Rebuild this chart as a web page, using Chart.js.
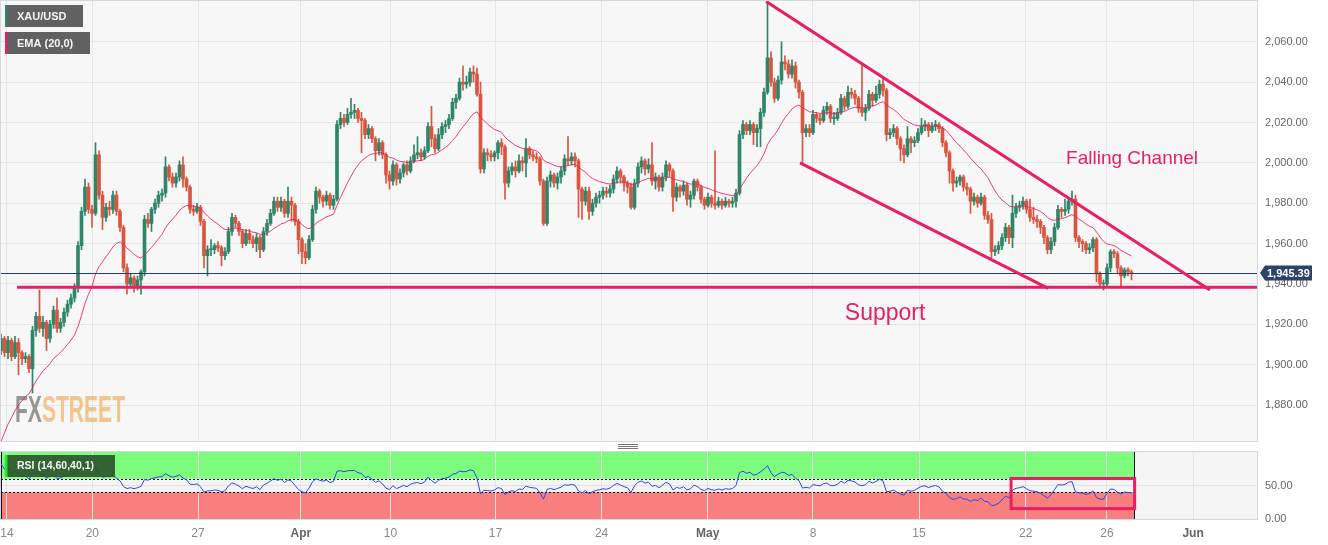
<!DOCTYPE html>
<html>
<head>
<meta charset="utf-8">
<script src="https://cdn.jsdelivr.net/npm/chart.js@4.4.0/dist/chart.umd.min.js"></script>
<style>
  body { margin: 0; background: #fff; width: 1328px; height: 545px; overflow: hidden; position: relative; }
  #main { position: absolute; left: 0; top: 0; }
  #rsi { position: absolute; left: 0; top: 445px; }
  .grip { position: absolute; left: 618px; width: 20px; height: 1px; background: #777; }
</style>
</head>
<body>
<canvas id="main" width="1328" height="442"></canvas>
<div class="grip" style="top:444px"></div>
<div class="grip" style="top:446px"></div>
<div class="grip" style="top:448px"></div>
<canvas id="rsi" width="1328" height="100"></canvas>
<script>
// XAU/USD 4h candles, Mar 14 - May 26
const firstOpen = 1907;
const closes = [
  1913, 1906, 1912, 1904, 1911, 1906, 1903, 1904, 1898, 1917,
  1924, 1918, 1921, 1913, 1920, 1927, 1918, 1921, 1926, 1930,
  1933, 1938, 1959, 1976, 1988, 1977, 1975, 2004, 1984, 1973,
  1978, 1977, 1984, 1976, 1968, 1948, 1940, 1943, 1939, 1942,
  1946, 1972, 1970, 1977, 1980, 1984, 1985, 1998, 1993, 1990,
  1993, 1999, 1992, 1988, 1977, 1976, 1978, 1971, 1954, 1957,
  1957, 1959, 1958, 1954, 1956, 1966, 1973, 1970, 1966, 1960,
  1965, 1962, 1960, 1963, 1957, 1966, 1970, 1975, 1981, 1978,
  1981, 1975, 1981, 1979, 1971, 1962, 1956, 1953, 1962, 1977,
  1986, 1983, 1981, 1984, 1979, 1982, 2019, 2022, 2020, 2024,
  2025, 2026, 2022, 2021, 2014, 2017, 2012, 2006, 2010, 2004,
  1994, 1991, 1999, 1992, 1995, 1999, 1996, 2001, 2004, 2005,
  2003, 2006, 2018, 2012, 2007, 2014, 2018, 2019, 2022, 2030,
  2032, 2040, 2039, 2040, 2045, 2044, 2034, 1997, 2005, 2004,
  2003, 2005, 2010, 2008, 1990, 1996, 1998, 1996, 2001, 2000,
  2007, 2004, 2003, 2002, 1991, 1970, 1991, 1994, 1990, 1993,
  1996, 2002, 2001, 2003, 2001, 1987, 1981, 1986, 1976, 1980,
  1983, 1984, 1986, 1985, 1987, 1992, 1996, 1993, 1990, 1988,
  1978, 1990, 1998, 2001, 1997, 1999, 1991, 1993, 1988, 1993,
  1999, 1996, 1983, 1988, 1986, 1989, 1982, 1984, 1991, 1988,
  1982, 1979, 1983, 1980, 1979, 1981, 1979, 1981, 1980, 1981,
  1985, 2014, 2019, 2016, 2019, 2015, 2017, 2025, 2035, 2052,
  2040, 2032, 2041, 2050, 2049, 2044, 2048, 2040, 2035, 2015,
  2017, 2015, 2024, 2022, 2021, 2026, 2028, 2022, 2022, 2025,
  2032, 2028, 2035, 2034, 2032, 2027, 2025, 2027, 2034, 2031,
  2034, 2039, 2036, 2014, 2015, 2017, 2012, 2007, 2004, 2012,
  2010, 2011, 2015, 2018, 2019, 2016, 2018, 2019, 2017, 2010,
  2005, 1996, 1990, 1991, 1993, 1988, 1987, 1981, 1983, 1980,
  1983, 1974, 1972, 1956, 1957, 1959, 1963, 1968, 1963, 1975,
  1978, 1979, 1981, 1977, 1973, 1972, 1971, 1968, 1963, 1957,
  1961, 1968, 1977, 1976, 1977, 1981, 1982, 1963, 1961, 1960,
  1957, 1958, 1962, 1945, 1940, 1940, 1948, 1956, 1955, 1948,
  1944, 1947, 1946, 1945.39
];
const highs = [
  1915, 1914, 1914, 1913, 1914, 1913, 1907, 1906, 1905, 1919,
  1926, 1937, 1924, 1922, 1922, 1929, 1933, 1923, 1928, 1932,
  1935, 1940, 1961, 1978, 1992, 1990, 1979, 2010, 2006, 1986,
  1980, 1981, 1986, 1986, 1977, 1969, 1950, 1945, 1944, 1944,
  1947, 1974, 1975, 1978, 1982, 1986, 1987, 2003, 1999, 1995,
  1995, 2001, 2003, 1993, 1989, 1979, 1980, 1979, 1972, 1959,
  1962, 1960, 1961, 1959, 1958, 1968, 1975, 1974, 1971, 1967,
  1967, 1967, 1964, 1965, 1964, 1968, 1972, 1977, 1983, 1983,
  1983, 1982, 1988, 1983, 1980, 1972, 1963, 1960, 1964, 1979,
  1988, 1987, 1984, 1986, 1985, 1984, 2021, 2025, 2024, 2027,
  2032, 2029, 2027, 2025, 2022, 2019, 2018, 2013, 2012, 2011,
  2005, 1996, 2001, 2000, 1997, 2000, 2001, 2003, 2009, 2013,
  2007, 2008, 2020, 2028, 2014, 2017, 2020, 2021, 2024, 2032,
  2034, 2042, 2048, 2043, 2047, 2048, 2047, 2040, 2007, 2007,
  2006, 2006, 2011, 2012, 2009, 1998, 2000, 2001, 2004, 2003,
  2012, 2008, 2006, 2005, 2003, 1992, 1993, 1996, 1995, 1995,
  1998, 2004, 2013, 2005, 2005, 2002, 1988, 1988, 1988, 1982,
  1985, 1986, 1988, 1988, 1989, 1994, 1998, 1997, 1994, 1991,
  1990, 1992, 2000, 2003, 2002, 2002, 2010, 1995, 1994, 1995,
  2001, 2000, 1997, 1990, 1989, 1991, 1990, 1986, 1992, 1992,
  1989, 1983, 1985, 1984, 2006, 1983, 1982, 1983, 1982, 1983,
  1987, 2016, 2021, 2020, 2021, 2020, 2019, 2027, 2037, 2079,
  2055, 2042, 2043, 2060, 2053, 2051, 2051, 2050, 2041, 2036,
  2019, 2019, 2026, 2025, 2024, 2028, 2030, 2029, 2025, 2027,
  2034, 2033, 2038, 2037, 2036, 2033, 2049, 2029, 2036, 2035,
  2038, 2041, 2042, 2037, 2017, 2019, 2018, 2013, 2009, 2018,
  2013, 2013, 2017, 2022, 2021, 2020, 2020, 2021, 2020, 2018,
  2011, 2006, 1997, 1993, 1994, 1994, 1990, 1988, 1985, 1984,
  1985, 1984, 1976, 1975, 1959, 1961, 1965, 1970, 1969, 1984,
  1980, 1981, 1983, 1982, 1982, 1978, 1974, 1972, 1969, 1964,
  1963, 1970, 1979, 1978, 1982, 1983, 1986, 1984, 1964, 1962,
  1961, 1960, 1963, 1963, 1946, 1942, 1950, 1957, 1957, 1956,
  1949, 1948, 1948, 1947
];
const lows = [
  1905, 1904, 1903, 1902, 1903, 1895, 1900, 1901, 1896, 1886,
  1914, 1916, 1914, 1907, 1911, 1918, 1916, 1916, 1919, 1924,
  1928, 1931, 1936, 1957, 1974, 1975, 1968, 1974, 1982, 1967,
  1971, 1974, 1975, 1974, 1966, 1946, 1935, 1938, 1936, 1937,
  1935, 1944, 1968, 1966, 1975, 1978, 1981, 1983, 1991, 1988,
  1988, 1991, 1988, 1986, 1975, 1974, 1975, 1969, 1948, 1944,
  1954, 1955, 1956, 1949, 1952, 1955, 1964, 1968, 1964, 1958,
  1959, 1960, 1958, 1956, 1953, 1956, 1964, 1969, 1974, 1976,
  1976, 1973, 1973, 1971, 1969, 1955, 1950, 1950, 1952, 1961,
  1975, 1980, 1978, 1979, 1977, 1977, 1981, 2017, 2018, 2019,
  2022, 2022, 2020, 2005, 2012, 2012, 2010, 2001, 2004, 2002,
  1990, 1987, 1989, 1989, 1990, 1993, 1994, 1995, 2000, 2002,
  2001, 2002, 2005, 2008, 2005, 2006, 2012, 2015, 2017, 2021,
  2027, 2031, 2036, 2037, 2038, 2040, 2033, 1995, 1995, 2001,
  2001, 2001, 2002, 2004, 1982, 1988, 1994, 1993, 1995, 1996,
  1993, 2002, 2001, 2000, 1989, 1969, 1969, 1988, 1988, 1987,
  1990, 1994, 1999, 1999, 1998, 1973, 1972, 1979, 1972, 1974,
  1978, 1980, 1982, 1983, 1983, 1985, 1990, 1990, 1986, 1985,
  1977, 1977, 1988, 1995, 1994, 1995, 1989, 1987, 1986, 1986,
  1991, 1993, 1976, 1981, 1983, 1984, 1979, 1978, 1982, 1986,
  1980, 1977, 1978, 1978, 1977, 1978, 1977, 1978, 1978, 1978,
  1978, 1984, 2012, 2014, 2014, 2009, 2008, 2008, 2023, 2034,
  2038, 2030, 2031, 2039, 2046, 2042, 2042, 2037, 2032, 2000,
  2013, 2013, 2014, 2020, 2019, 2020, 2024, 2020, 2019, 2021,
  2024, 2026, 2027, 2032, 2029, 2025, 2023, 2021, 2026, 2028,
  2030, 2032, 2033, 2011, 2012, 2013, 2009, 2001, 2000, 2003,
  2005, 2008, 2010, 2014, 2016, 2013, 2015, 2016, 2015, 2008,
  2003, 1990, 1986, 1988, 1989, 1986, 1984, 1975, 1979, 1978,
  1979, 1972, 1970, 1953, 1954, 1955, 1957, 1961, 1960, 1958,
  1973, 1976, 1977, 1975, 1971, 1970, 1968, 1965, 1960, 1955,
  1955, 1959, 1967, 1973, 1974, 1975, 1979, 1961, 1958, 1956,
  1955, 1955, 1956, 1941, 1938, 1937, 1939, 1946, 1953, 1945,
  1939, 1943, 1944, 1942
];

// axis ticks (candle index of each date label)
const dateTicks = [1.7, 26.1, 56.3, 85.7, 111.3, 141.3, 171.6, 201.9, 232.0, 262.3, 292.8, 316.0, 340.6];
const dateLabels = ['14', '20', '27', 'Apr', '10', '17', '24', 'May', '8', '15', '22', '26', 'Jun'];
const priceTicks = [1880, 1900, 1920, 1940, 1960, 1980, 2000, 2020, 2040, 2060];
const rsiTicks = [0, 50];

// indicator settings
const emaPeriod = 20;
const emaSeed = 1862;
const rsiPeriod = 14;
const rsiSeedGain = 4.2;
const rsiSeedLoss = 0.9;
const rsiUpper = 60;
const rsiLower = 40;

// drawings on the chart, in (candle index, price)
const supportLevel = 1938.4;
const supportStart = 4.6;
const upperChannel = [[218.6, 2080.0], [345.4, 1937.0]];
const lowerChannel = [[228.3, 2000.0], [299.2, 1937.8]];
const channelLabel = [304.3, 1999.4];
const supportLabel = [241.1, 1922.1];
const rsiBox = [288.6, 60.5, 323.9, 15.5];

const FONT = 'Arial, "Liberation Sans", sans-serif';
const GREEN = '#2e8568';
const RED = '#d95540';
const PINK = '#e91e63';
const xMin = 0, xMax = 358.86;

const opens = closes.map((c, i) => i === 0 ? firstOpen : closes[i - 1]);
const colors = closes.map((c, i) => c >= opens[i] ? GREEN : RED);

// EMA
const k = 2 / (emaPeriod + 1);
const ema = [];
closes.forEach((c, i) => {
  ema.push(i === 0 ? emaSeed : ema[i - 1] + k * (c - ema[i - 1]));
});

// RSI (Wilder)
let avgG = rsiSeedGain, avgL = rsiSeedLoss;
const rsi = closes.map((c, i) => {
  if (i > 0) {
    const ch = c - closes[i - 1];
    avgG = (avgG * (rsiPeriod - 1) + Math.max(ch, 0)) / rsiPeriod;
    avgL = (avgL * (rsiPeriod - 1) + Math.max(-ch, 0)) / rsiPeriod;
  }
  return 100 - 100 / (1 + avgG / avgL);
});

function fmt(v) {
  return v.toLocaleString('en-US', { minimumFractionDigits: 2, maximumFractionDigits: 2 });
}

function xAxis(showLabels) {
  return {
    type: 'linear', min: xMin, max: xMax, offset: false,
    afterBuildTicks: s => { s.ticks = dateTicks.map(v => ({ value: v })); },
    afterFit: s => {
      s.height = showLabels ? 26 : 0;
      s.paddingLeft = 0; s.paddingRight = 0;
    },
    grid: { color: '#e6e6e6', drawTicks: false, offset: false },
    border: { display: false },
    ticks: {
      display: showLabels, autoSkip: false, maxRotation: 0, padding: 7,
      callback: (v, i) => dateLabels[i],
      color: c => /^[A-Z]/.test(dateLabels[c.index]) ? '#666' : '#888',
      font: c => ({ family: FONT, size: 12, weight: /^[A-Z]/.test(dateLabels[c.index]) ? 'bold' : 'normal' })
    }
  };
}

function yFit(s) {
  s.width = 71;
  s.paddingTop = 0; s.paddingBottom = 0;
}

function tagBox(ctx, x, y, w, h, strip, fill, text, size) {
  ctx.fillStyle = fill;
  ctx.fillRect(x, y, w, h);
  ctx.fillStyle = strip;
  ctx.fillRect(x, y, 2.5, h);
  ctx.fillStyle = '#f4f4f4';
  ctx.font = 'bold ' + size + 'px ' + FONT;
  ctx.textBaseline = 'middle';
  ctx.textAlign = 'left';
  ctx.fillText(text, x + 12, y + h / 2 + 0.5);
}

const mainDecor = {
  id: 'mainDecor',
  beforeDraw(chart) {
    const { ctx, chartArea: a } = chart;
    ctx.save();
    ctx.fillStyle = '#f7f7f7';
    ctx.fillRect(a.left, a.top, a.right - a.left, a.bottom - a.top);
    ctx.restore();
  },
  beforeDatasetsDraw(chart) {
    // watermark
    const { ctx } = chart;
    ctx.save();
    ctx.font = 'bold 37px ' + FONT;
    const wFX = ctx.measureText('FX').width;
    const wAll = ctx.measureText('FXSTREET').width;
    ctx.translate(15, 422);
    ctx.scale(110 / wAll, 1);
    ctx.textBaseline = 'alphabetic';
    ctx.fillStyle = 'rgba(125,125,125,0.8)';
    ctx.fillText('FX', 0, 0);
    ctx.fillStyle = 'rgba(240,175,95,0.7)';
    ctx.fillText('STREET', wFX, 0);
    ctx.restore();
  },
  afterDatasetsDraw(chart) {
    const { ctx, chartArea: a, scales: { x, y } } = chart;
    const line = (p, q, color, w) => {
      ctx.beginPath();
      ctx.strokeStyle = color;
      ctx.lineWidth = w;
      ctx.moveTo(x.getPixelForValue(p[0]), y.getPixelForValue(p[1]));
      ctx.lineTo(x.getPixelForValue(q[0]), y.getPixelForValue(q[1]));
      ctx.stroke();
    };
    ctx.save();
    ctx.beginPath();
    ctx.rect(a.left, a.top, a.right - a.left, a.bottom - a.top);
    ctx.clip();
    // last price line
    const lp = Math.round(y.getPixelForValue(closes[closes.length - 1])) + 0.5;
    ctx.beginPath();
    ctx.strokeStyle = '#2c3e5c';
    ctx.lineWidth = 1;
    ctx.moveTo(a.left, lp);
    ctx.lineTo(a.right, lp);
    ctx.stroke();
    line([supportStart, supportLevel], [xMax, supportLevel], PINK, 3);
    line(upperChannel[0], upperChannel[1], PINK, 3);
    line(lowerChannel[0], lowerChannel[1], PINK, 3);
    ctx.fillStyle = PINK;
    ctx.textBaseline = 'alphabetic';
    ctx.textAlign = 'left';
    ctx.font = '19px ' + FONT;
    ctx.fillText('Falling Channel', x.getPixelForValue(channelLabel[0]), y.getPixelForValue(channelLabel[1]));
    ctx.font = '23px ' + FONT;
    ctx.fillText('Support', x.getPixelForValue(supportLabel[0]), y.getPixelForValue(supportLabel[1]));
    ctx.restore();
  },
  afterDraw(chart) {
    const { ctx, chartArea: a, scales: { y } } = chart;
    ctx.save();
    ctx.strokeStyle = '#d3d8e6';
    ctx.lineWidth = 1;
    ctx.strokeRect(a.left - 0.5, a.top - 0.5, a.right - a.left + 1, a.bottom - a.top + 1);
    tagBox(ctx, 5, 5, 78, 22, GREEN, 'rgba(88,88,88,0.95)', 'XAU/USD', 11);
    tagBox(ctx, 5, 32, 85, 22, PINK, 'rgba(88,88,88,0.95)', 'EMA (20,0)', 11);
    // last price tag
    const last = closes[closes.length - 1];
    const py = y.getPixelForValue(last);
    ctx.fillStyle = '#2c4468';
    ctx.beginPath();
    ctx.moveTo(1260, py);
    ctx.lineTo(1265, py - 7.5);
    ctx.lineTo(1312, py - 7.5);
    ctx.lineTo(1312, py + 7.5);
    ctx.lineTo(1265, py + 7.5);
    ctx.closePath();
    ctx.fill();
    ctx.fillStyle = '#fff';
    ctx.font = 'bold 11px ' + FONT;
    ctx.textBaseline = 'middle';
    ctx.textAlign = 'left';
    ctx.fillText(fmt(last), 1267, py + 0.5);
    ctx.restore();
  }
};

new Chart(document.getElementById('main'), {
  type: 'bar',
  data: {
    datasets: [
      {
        type: 'line', data: ema.map((v, i) => ({ x: i, y: v })),
        borderColor: 'rgba(233,30,99,0.85)', borderWidth: 1, pointRadius: 0, tension: 0, order: 0
      },
      {
        data: closes.map((c, i) => ({ x: i, y: [Math.min(opens[i], c), Math.max(opens[i], c)] })),
        backgroundColor: colors, barThickness: 3, minBarLength: 1, grouped: false, borderWidth: 0, order: 1
      },
      {
        data: closes.map((c, i) => ({ x: i, y: [Math.min(lows[i], opens[i], c), Math.max(highs[i], opens[i], c)] })),
        backgroundColor: colors, barThickness: 1, grouped: false, borderWidth: 0, order: 2
      }
    ]
  },
  options: {
    responsive: false, animation: false, events: [],
    layout: { padding: { left: 1, top: 1, right: 0, bottom: 1 } },
    plugins: { legend: { display: false }, tooltip: { enabled: false } },
    scales: {
      x: xAxis(false),
      y: {
        position: 'right', min: 1862.2, max: 2080.2,
        afterBuildTicks: s => { s.ticks = priceTicks.map(v => ({ value: v })); },
        afterFit: yFit,
        grid: { color: '#e6e6e6', drawTicks: false },
        border: { display: false },
        ticks: { padding: 8, color: '#666', font: { family: FONT, size: 11 }, callback: v => fmt(v) }
      }
    }
  },
  plugins: [mainDecor]
});

const rsiDecor = {
  id: 'rsiDecor',
  beforeDraw(chart) {
    const { ctx, chartArea: a, scales: { x, y } } = chart;
    const xe = x.getPixelForValue(closes.length - 1) + 3;
    const yTop = y.getPixelForValue(100), yU = y.getPixelForValue(rsiUpper);
    const yL = y.getPixelForValue(rsiLower), yB = y.getPixelForValue(0);
    ctx.save();
    ctx.fillStyle = '#f5f5f5';
    ctx.fillRect(a.left, a.top, a.right - a.left, a.bottom - a.top);
    ctx.fillStyle = '#7dfc7d';
    ctx.fillRect(a.left, yTop, xe - a.left, yU - yTop);
    ctx.fillStyle = '#f97f7f';
    ctx.fillRect(a.left, yL, xe - a.left, yB - yL);
    ctx.restore();
  },
  beforeDatasetsDraw(chart) {
    const { ctx, chartArea: a, scales: { x, y } } = chart;
    const xe = x.getPixelForValue(closes.length - 1) + 3;
    ctx.save();
    ctx.strokeStyle = '#111';
    ctx.lineWidth = 1;
    ctx.setLineDash([2, 2]);
    [rsiUpper, rsiLower].forEach(v => {
      const py = Math.round(y.getPixelForValue(v)) + 0.5;
      ctx.beginPath();
      ctx.moveTo(a.left, py);
      ctx.lineTo(xe, py);
      ctx.stroke();
    });
    ctx.setLineDash([]);
    [a.left + 0.5, Math.round(xe) + 0.5].forEach(px => {
      ctx.beginPath();
      ctx.moveTo(px, a.top);
      ctx.lineTo(px, a.bottom);
      ctx.stroke();
    });
    ctx.restore();
  },
  afterDatasetsDraw(chart) {
    const { ctx, scales: { x, y } } = chart;
    const x1 = x.getPixelForValue(rsiBox[0]), y1 = y.getPixelForValue(rsiBox[1]);
    const x2 = x.getPixelForValue(rsiBox[2]), y2 = y.getPixelForValue(rsiBox[3]);
    ctx.save();
    ctx.strokeStyle = PINK;
    ctx.lineWidth = 3;
    ctx.strokeRect(x1, y1, x2 - x1, y2 - y1);
    ctx.restore();
  },
  afterDraw(chart) {
    const { ctx, chartArea: a } = chart;
    ctx.save();
    ctx.strokeStyle = '#d3d8e6';
    ctx.lineWidth = 1;
    ctx.strokeRect(a.left - 0.5, a.top - 0.5, a.right - a.left + 1, a.bottom - a.top + 1);
    tagBox(ctx, 5, 10, 110, 22, '#22e622', 'rgba(45,85,45,0.92)', 'RSI (14,60,40,1)', 10.5);
    ctx.restore();
  }
};

new Chart(document.getElementById('rsi'), {
  type: 'line',
  data: {
    datasets: [{
      data: rsi.map((v, i) => ({ x: i, y: v })),
      borderColor: '#2a46f0', borderWidth: 1, pointRadius: 0, tension: 0
    }]
  },
  options: {
    responsive: false, animation: false, events: [],
    layout: { padding: { left: 1, top: 7, right: 0, bottom: 0 } },
    plugins: { legend: { display: false }, tooltip: { enabled: false } },
    scales: {
      x: xAxis(true),
      y: {
        position: 'right', min: 0, max: 100,
        afterBuildTicks: s => { s.ticks = rsiTicks.map(v => ({ value: v })); },
        afterFit: yFit,
        grid: { color: 'rgba(0,0,0,0.07)', drawTicks: false },
        border: { display: false },
        ticks: { padding: 8, color: '#666', font: { family: FONT, size: 11 }, callback: v => fmt(v) }
      }
    }
  },
  plugins: [rsiDecor]
});
</script>
</body>
</html>
